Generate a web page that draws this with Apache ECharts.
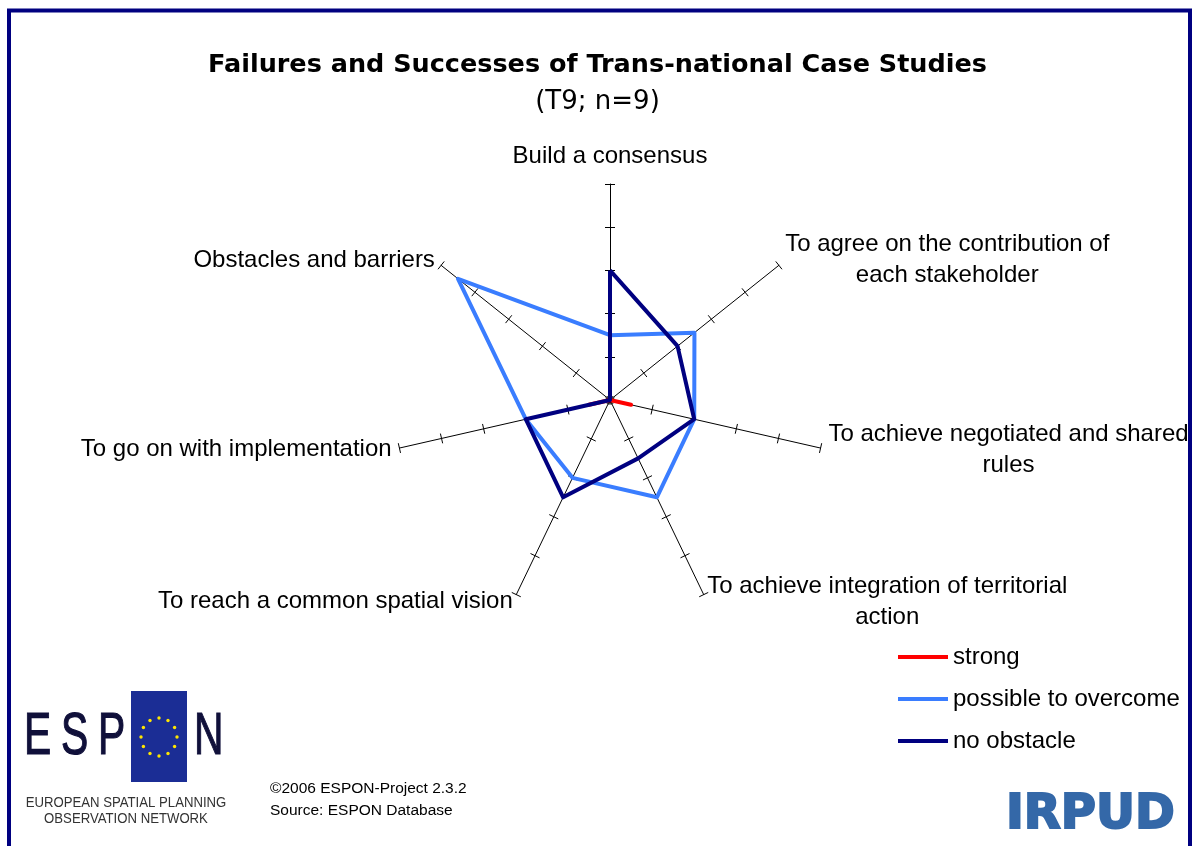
<!DOCTYPE html>
<html>
<head>
<meta charset="utf-8">
<title>Failures and Successes of Trans-national Case Studies</title>
<script src="https://cdn.jsdelivr.net/npm/echarts@6/dist/echarts.min.js"></script>
<style>
  html, body { margin: 0; padding: 0; background: #fff; }
  #chart { width: 1195px; height: 846px; }
</style>
</head>
<body>
<div id="chart"></div>
<script>
// axes listed clockwise from the top, as in the picture
const categories = [
  'Build a consensus',
  'To agree on the contribution of\neach stakeholder',
  'To achieve negotiated and shared\nrules',
  'To achieve integration of territorial\naction',
  'To reach a common spatial vision',
  'To go on with implementation',
  'Obstacles and barriers'
];
const seriesNames = ['strong', 'possible to overcome', 'no obstacle'];
const strong = [0, 0, 0.5, 0, 0, 0.5, 0];
const possible = [1.5, 2.5, 2, 2.5, 2, 2, 4.5];
const noObstacle = [3, 2, 2, 1.5, 2.5, 2, 0];
const axisTicks = [0, 1, 2, 3, 4, 5];
const colors = ['#ff0000', '#3a7dff', '#000080'];

const labelFont = 'Liberation Sans, Arial, sans-serif';
const labelSize = 24;

// echarts lays radar indicators out counter-clockwise, so flip the tail
const cw = arr => [arr[0]].concat(arr.slice(1).reverse());

const chart = echarts.init(document.getElementById('chart'));

const radarBase = {
  center: [610, 400],
  radius: 216,
  startAngle: 90,
  splitNumber: axisTicks.length - 1,
  shape: 'polygon',
  splitLine: { show: false },
  splitArea: { show: false }
};
const indicators = cw(categories).map(name => ({
  name: name,
  min: axisTicks[0],
  max: axisTicks[axisTicks.length - 1]
}));

// star ring for the ESPON logo
const stars = [];
for (let i = 0; i < 12; i++) {
  const a = i * Math.PI / 6;
  stars.push({
    type: 'circle',
    shape: { cx: 159 + 18 * Math.cos(a), cy: 737 + 19 * Math.sin(a), r: 1.7 },
    style: { fill: '#ffe600' }
  });
}

const logoLetter = (ch, x) => ({
  type: 'text', x: x, y: 737, scaleX: 0.68,
  style: { text: ch, font: '60px Liberation Sans', fill: '#10103a', verticalAlign: 'middle',
    stroke: '#10103a', lineWidth: 1.2 }
});

const option = {
  backgroundColor: '#fff',
  animation: false,
  title: {
    text: 'Failures and Successes of Trans-national Case Studies',
    subtext: '(T9; n=9)',
    left: 'center',
    top: 47,
    itemGap: 11,
    textStyle: { fontFamily: 'DejaVu Sans', fontWeight: 'bold', fontSize: 25.5, color: '#000' },
    subtextStyle: { fontFamily: 'DejaVu Sans', fontSize: 26, color: '#000' }
  },
  legend: {
    orient: 'vertical',
    left: 898,
    top: 645,
    padding: 0,
    itemWidth: 50,
    itemHeight: 4,
    itemGap: 18,
    icon: 'rect',
    textStyle: { fontFamily: labelFont, fontSize: labelSize, color: '#000' }
  },
  radar: [
    Object.assign({}, radarBase, {
      indicator: indicators,
      nameGap: 8,
      axisName: {
        color: '#000',
        fontFamily: labelFont,
        fontSize: labelSize,
        formatter: name => {
          const tag = name === categories[0] ? 'top' : 'c';
          return name.split('\n').map(s => '{' + tag + '|' + s + '}').join('\n');
        },
        rich: {
          c: { align: 'center', color: '#000', fontFamily: labelFont, fontSize: labelSize, lineHeight: 31 },
          top: { align: 'center', color: '#000', fontFamily: labelFont, fontSize: labelSize, lineHeight: 31,
            padding: [0, 0, 8, 0] }
        }
      },
      axisLine: { lineStyle: { color: '#000', width: 1 } },
      axisTick: { show: true, length: 5, lineStyle: { color: '#000', width: 1 } }
    }),
    // second copy only to put tick marks on the other side of each axis
    Object.assign({}, radarBase, {
      indicator: indicators.map(d => ({ name: '', min: d.min, max: d.max })),
      axisName: { show: false },
      axisLine: { show: false },
      axisTick: { show: true, length: -5, lineStyle: { color: '#000', width: 1 } }
    })
  ],
  series: [{
    type: 'radar',
    radarIndex: 0,
    symbol: 'none',
    data: [strong, possible, noObstacle].map((vals, i) => ({
      name: seriesNames[i],
      value: cw(vals),
      lineStyle: { color: colors[i], width: 4 },
      itemStyle: { color: colors[i] }
    }))
  }],
  graphic: [
    // cover anything running past the right frame edge
    { type: 'rect', z: 100, shape: { x: 1192, y: 0, width: 10, height: 846 }, style: { fill: '#fff' } },
    { type: 'rect', z: 101, shape: { x: 9, y: 10.5, width: 1181, height: 900 },
      style: { fill: null, stroke: '#000080', lineWidth: 4 } },
    // ESPON logo
    { type: 'rect', shape: { x: 131, y: 691, width: 56, height: 91 }, style: { fill: '#1b2d95' } },
    { type: 'group', children: stars },
    logoLetter('E', 24),
    logoLetter('S', 61),
    logoLetter('P', 98),
    logoLetter('N', 194),
    { type: 'text', x: 126, y: 803, scaleX: 0.94,
      style: { text: 'EUROPEAN SPATIAL PLANNING', font: '14px Liberation Sans', fill: '#333',
        align: 'center', verticalAlign: 'middle' } },
    { type: 'text', x: 126, y: 819, scaleX: 0.94,
      style: { text: 'OBSERVATION NETWORK', font: '14px Liberation Sans', fill: '#333',
        align: 'center', verticalAlign: 'middle' } },
    // credits
    { type: 'text', x: 270, y: 789,
      style: { text: '\u00a92006 ESPON-Project 2.3.2', font: '15.5px Liberation Sans', fill: '#000',
        verticalAlign: 'middle' } },
    { type: 'text', x: 270, y: 811,
      style: { text: 'Source: ESPON Database', font: '15.5px Liberation Sans', fill: '#000',
        verticalAlign: 'middle' } },
    // IRPUD logo
    { type: 'text', x: 1006, y: 816,
      style: { text: 'IRPUD', font: 'bold 48px DejaVu Sans', fill: '#3468a8', verticalAlign: 'middle',
        stroke: '#3468a8', lineWidth: 2 } }
  ]
};

chart.setOption(option);
</script>
</body>
</html>
